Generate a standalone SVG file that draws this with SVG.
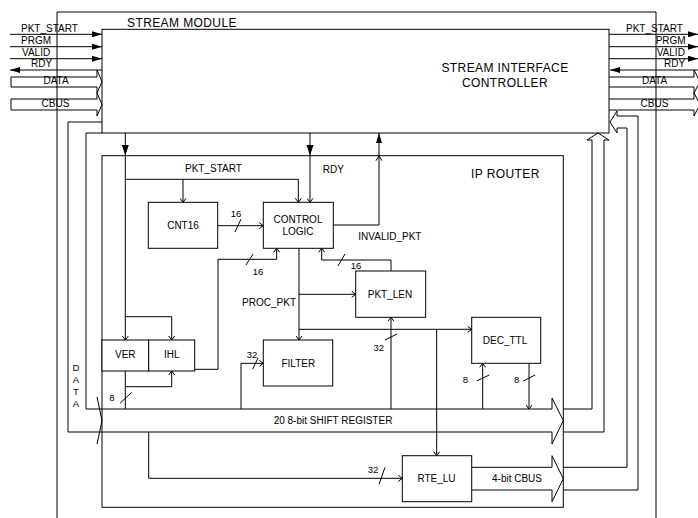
<svg xmlns="http://www.w3.org/2000/svg" width="698" height="518" viewBox="0 0 698 518">
<style>
.b{fill:#fff;stroke:#000;stroke-width:1}
.l{fill:none;stroke:#000;stroke-width:1}
.t{font-family:"Liberation Sans",Arial,sans-serif;font-size:10px;fill:#000}
.big{font-size:12px;letter-spacing:0.4px}
.s{font-size:9.5px}
.m{text-anchor:middle}
.o{marker-end:url(#open)}
.f{marker-end:url(#fill)}
</style>
<defs>
<marker id="open" viewBox="0 0 5 7" refX="4.5" refY="3.5" markerWidth="5" markerHeight="7" markerUnits="userSpaceOnUse" orient="auto">
<path d="M0.5,0.5 L4.5,3.5 L0.5,6.5" fill="none" stroke="#000" stroke-width="1"/>
</marker>
<marker id="fill" viewBox="0 0 10 6" refX="10" refY="3" markerWidth="10" markerHeight="6" markerUnits="userSpaceOnUse" orient="auto">
<path d="M0,0 L10,3 L0,6 Z" fill="#000"/>
</marker>
</defs>
<rect width="698" height="518" fill="#fff"/>

<g id="stream-module">
<path class="l" d="M57,518 V12 H656 V518"/>
<text class="t big" x="127" y="26.5">STREAM MODULE</text>
</g>

<g id="stream-interface-controller">
<rect class="b" x="102" y="29.3" width="507" height="103.7"/>
<text class="t big m" x="505" y="72">STREAM INTERFACE</text>
<text class="t big m" x="505" y="86.5">CONTROLLER</text>
</g>

<g id="ip-router">
<rect class="b" x="102" y="155.7" width="461.3" height="351.6"/>
<text class="t big" x="471" y="178">IP ROUTER</text>
</g>

<g id="cnt16">
<rect class="b" x="148.3" y="202.3" width="69.4" height="46"/>
<text class="t m" x="183" y="229">CNT16</text>
</g>
<g id="control-logic">
<rect class="b" x="263.3" y="202.3" width="70" height="46"/>
<text class="t m" x="298" y="223.3">CONTROL</text>
<text class="t m" x="298" y="235">LOGIC</text>
</g>
<g id="pkt-len">
<rect class="b" x="355.7" y="271" width="70" height="46.3"/>
<text class="t m" x="390" y="298.3">PKT_LEN</text>
</g>
<g id="filter">
<rect class="b" x="263.3" y="340" width="69.4" height="46"/>
<text class="t m" x="298.3" y="366.7">FILTER</text>
</g>
<g id="dec-ttl">
<rect class="b" x="471.7" y="317.3" width="69" height="46"/>
<text class="t m" x="505" y="344">DEC_TTL</text>
</g>
<g id="ver">
<rect class="b" x="102" y="340" width="46.7" height="31"/>
<text class="t m" x="125.3" y="358.3">VER</text>
</g>
<g id="ihl">
<rect class="b" x="148.7" y="340" width="46" height="31"/>
<text class="t m" x="171.7" y="358.3">IHL</text>
</g>
<g id="rte-lu">
<rect class="b" x="402.3" y="455.7" width="69.4" height="46"/>
<text class="t m" x="436.5" y="481.7">RTE_LU</text>
</g>

<g id="shift-register">
<path class="l" d="M86,409 H552 M68,432 H552"/>
<path class="l" d="M97,397 L102,420.5 L97,444"/>
<path class="l" d="M552,409 V398 L563.3,420.5 L552,444 V432"/>
<text class="t m" x="333" y="423.5">20 8-bit SHIFT REGISTER</text>
</g>

<g id="cbus-4bit">
<path class="l" d="M471.7,467.3 H552 M471.7,490 H552"/>
<path class="l" d="M552,467.3 V455.7 L563.3,478.7 L552,501.7 V490"/>
<text class="t m" x="517" y="481.7">4-bit CBUS</text>
</g>

<g id="connectors">
<!-- left external -->
<path class="l f" d="M10,34.3 H102"/>
<path class="l f" d="M10,46.7 H102"/>
<path class="l f" d="M10,58.7 H102"/>
<path class="l f" d="M102,70 H10"/>
<path class="l" d="M11,77 H97 V70 L102,81.5 L97,93 V87 H11 Z"/>
<path class="l" d="M11,99 H97 V93 L102,104.5 L97,116 V110 H11 Z"/>
<text class="t" x="21" y="32.3">PKT_START</text>
<text class="t" x="21" y="44.3">PRGM</text>
<text class="t" x="22" y="56">VALID</text>
<text class="t" x="31" y="66.7">RDY</text>
<text class="t m" x="56" y="84.3">DATA</text>
<text class="t m" x="55.5" y="107.3">CBUS</text>
<!-- right external -->
<path class="l f" d="M609,34.3 H698"/>
<path class="l f" d="M609,46.7 H698"/>
<path class="l f" d="M609,58.7 H698"/>
<path class="l f" d="M698,70 H610"/>
<path class="l" d="M609,77 H694 V70 L700,81.5 L694,93 V87 H609"/>
<path class="l" d="M609,99 H694 V93 L700,104.5 L694,116 V110 H609"/>
<text class="t" x="626" y="32.3">PKT_START</text>
<text class="t" x="655.7" y="44.3">PRGM</text>
<text class="t" x="656.7" y="56">VALID</text>
<text class="t" x="664" y="66.7">RDY</text>
<text class="t m" x="654.5" y="84.3">DATA</text>
<text class="t m" x="654.5" y="107.3">CBUS</text>
<!-- DATA loop into router -->
<path class="l" d="M102,122 H68 V432"/>
<path class="l" d="M102,133 H86 V409"/>
<text class="t s m" x="76" y="371">D</text>
<text class="t s m" x="76" y="383">A</text>
<text class="t s m" x="76" y="395">T</text>
<text class="t s m" x="76" y="407">A</text>
<!-- shift register return -->
<path class="l" d="M563.3,409 H592 V140 H587 L598,133 L609,140 H604 V432 H563.3"/>
<!-- CBUS return -->
<path class="l" d="M563.3,467.3 H627 V128 H617 V133 L610,122 L617,111 V116 H638 V490 H563.3"/>
<!-- PKT_START internal -->
<path class="l o" d="M125.3,133 V340"/>
<path d="M121.8,145 L128.8,145 L125.3,155.5 Z" fill="#000"/>
<path class="l o" d="M125.3,179.3 H298.3 V202.3"/>
<path class="l o" d="M183,179.3 V202.3"/>
<path class="l o" d="M125.3,316.7 H171.7 V340"/>
<text class="t" x="185" y="171.7">PKT_START</text>
<!-- RDY internal -->
<path class="l o" d="M310,133 V202.3"/>
<path d="M306.5,145 L313.5,145 L310,155.5 Z" fill="#000"/>
<text class="t" x="322.7" y="173.3">RDY</text>
<!-- INVALID_PKT -->
<path class="l f" d="M333.3,225 H379 V133"/>
<path class="l" d="M376,160.7 L379,155.7 L382,160.7"/>
<text class="t" x="358.3" y="240">INVALID_PKT</text>
<!-- CNT16 -> CONTROL LOGIC -->
<path class="l o" d="M217.7,225.7 H263.3"/>
<path class="l" d="M235,232 L241,219"/>
<text class="t s m" x="236" y="217">16</text>
<!-- IHL -> CONTROL LOGIC -->
<path class="l o" d="M194.7,369.3 H218 V259.3 H276.7 V248.3"/>
<path class="l" d="M246,265 L253,254"/>
<text class="t s m" x="258" y="275">16</text>
<!-- PKT_LEN -> CONTROL LOGIC -->
<path class="l o" d="M391,271 V260 H321.7 V248.3"/>
<path class="l" d="M338,266 L345,254"/>
<text class="t s m" x="356" y="269">16</text>
<!-- PROC_PKT -->
<path class="l o" d="M299,248.3 V340"/>
<path class="l o" d="M299,294.3 H355.7"/>
<path class="l o" d="M299,329.3 H471.7"/>
<path class="l o" d="M436.7,329.3 V455.7"/>
<text class="t" x="296" y="306" text-anchor="end">PROC_PKT</text>
<!-- shift register -> FILTER -->
<path class="l o" d="M241,409 V363.3 H263.3"/>
<path class="l" d="M252.7,369 L258,358"/>
<text class="t s m" x="252" y="358.3">32</text>
<!-- shift register -> PKT_LEN -->
<path class="l o" d="M391,409 V317.3"/>
<path class="l" d="M385,340 L397,334"/>
<text class="t s m" x="378.7" y="350.7">32</text>
<!-- shift register -> DEC_TTL -->
<path class="l o" d="M482.7,409 V363.3"/>
<path class="l" d="M476.7,381 L489.3,375"/>
<text class="t s m" x="465.5" y="383.3">8</text>
<!-- DEC_TTL -> shift register -->
<path class="l o" d="M529,363.3 V409"/>
<path class="l" d="M523.3,381 L535,375"/>
<text class="t s m" x="516.7" y="383.3">8</text>
<!-- shift register -> VER / IHL -->
<path class="l" d="M125.3,409 V371"/>
<path class="l o" d="M125.3,386.7 H171.7 V371"/>
<path class="l" d="M120,403.3 L131.7,392.3"/>
<text class="t s m" x="112" y="400.7">8</text>
<!-- shift register -> RTE_LU -->
<path class="l o" d="M148.7,432 V478.3 H402.3"/>
<path class="l" d="M379,484.3 L385,467.3"/>
<text class="t s m" x="373" y="472.7">32</text>
</g>
</svg>
